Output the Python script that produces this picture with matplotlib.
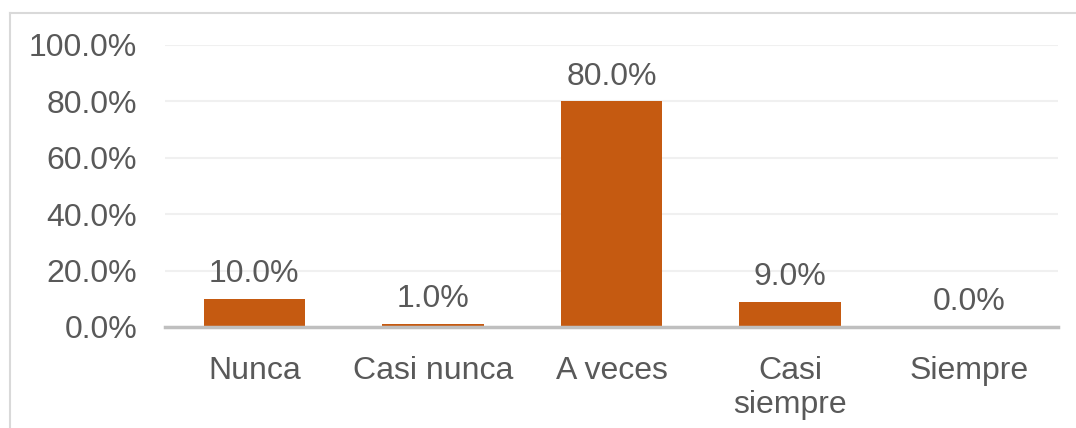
import matplotlib.pyplot as plt
from matplotlib.lines import Line2D
from matplotlib.ticker import FuncFormatter

categories = ["Nunca", "Casi nunca", "A veces", "Casi\nsiempre", "Siempre"]
values = [0.10, 0.01, 0.80, 0.09, 0.00]
labels = ["10.0%", "1.0%", "80.0%", "9.0%", "0.0%"]

bar_color = "#C55A11"
text_color = "#595959"

plt.rcParams["font.family"] = ["Liberation Sans", "DejaVu Sans"]

fig = plt.figure(figsize=(10.76, 4.28), dpi=100)
ax = fig.add_axes([165 / 1076, 1 - 327 / 428, 893 / 1076, 282 / 428])

x = range(len(categories))
ax.bar(x, values, width=0.567, color=bar_color, zorder=3)

for xi, v, lab in zip(x, values, labels):
    ax.annotate(lab, (xi, v), xytext=(0, 7), textcoords="offset points",
                ha="center", va="bottom", fontsize=23, color=text_color)

ax.set_xlim(-0.5, len(categories) - 0.5)
ax.set_ylim(0, 1.0)
ax.set_yticks([0, 0.2, 0.4, 0.6, 0.8, 1.0])
ax.yaxis.set_major_formatter(FuncFormatter(lambda v, _: f"{v * 100:.1f}%"))
ax.set_xticks(list(x))
ax.set_xticklabels(categories, linespacing=1.15)

ax.tick_params(axis="both", length=0, labelsize=23, labelcolor=text_color)
ax.tick_params(axis="y", pad=20)
ax.tick_params(axis="x", pad=21)

ax.grid(axis="y", color="#F0F0F0", linewidth=1.5, zorder=0)
for side in ["top", "right", "left"]:
    ax.spines[side].set_visible(False)
ax.spines["bottom"].set_color("#BFBFBF")
ax.spines["bottom"].set_linewidth(2.5)
ax.spines["bottom"].set_zorder(4)

# chart frame (left and top edges visible)
fig.add_artist(Line2D([10 / 1076, 10 / 1076], [0, 1 - 13 / 428], color="#D9D9D9", linewidth=1.5))
fig.add_artist(Line2D([10 / 1076, 1], [1 - 13 / 428, 1 - 13 / 428], color="#D9D9D9", linewidth=1.5))

fig.savefig("out.png", dpi=100)
